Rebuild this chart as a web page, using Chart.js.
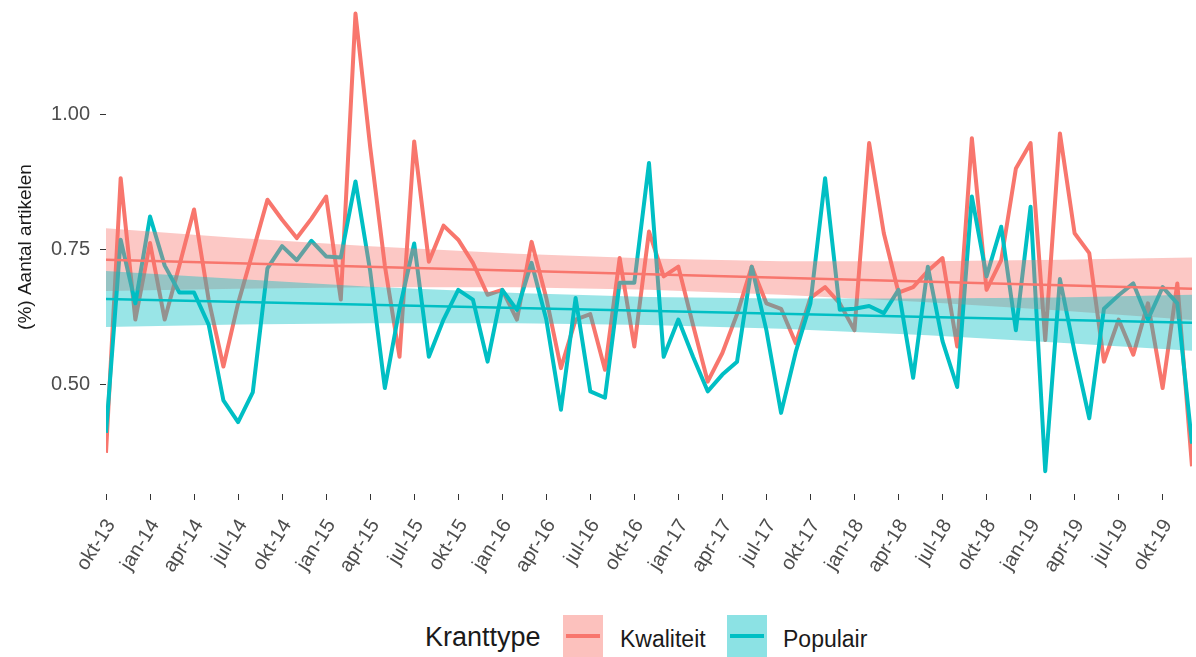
<!DOCTYPE html>
<html>
<head>
<meta charset="utf-8">
<script src="https://cdn.jsdelivr.net/npm/chart.js@4/dist/chart.umd.min.js"></script>
<style>
  body { margin: 0; background: #fff; font-family: "Liberation Sans", Arial, sans-serif; }
  #wrap { position: relative; width: 1196px; height: 657px; }
  #chart { position: absolute; left: 0; top: 0; }
  .leg { position: absolute; color: #1a1a1a; white-space: nowrap; line-height: 1; }
  .sw { position: absolute; width: 40px; height: 42px; }
  .sw span { position: absolute; left: 3px; right: 3px; top: 19px; height: 4px; }
</style>
</head>
<body>
<div id="wrap">
  <canvas id="chart" width="1196" height="600"></canvas>
  <div class="leg" style="left:425px; top:624px; font-size:27px;">Kranttype</div>
  <div class="sw" style="left:563px; top:615px; background:rgba(248,118,109,0.45);"><span style="background:#F8766D"></span></div>
  <div class="leg" style="left:620px; top:628px; font-size:23px;">Kwaliteit</div>
  <div class="sw" style="left:727px; top:615px; background:rgba(0,191,196,0.45);"><span style="background:#00BFC4"></span></div>
  <div class="leg" style="left:783px; top:628px; font-size:23px;">Populair</div>
</div>
<script>
// tick labels, one every 3 months starting okt-13 (month index 0)
const tickLabels = ["okt-13", "jan-14", "apr-14", "jul-14", "okt-14", "jan-15", "apr-15", "jul-15", "okt-15",
  "jan-16", "apr-16", "jul-16", "okt-16", "jan-17", "apr-17", "jul-17", "okt-17", "jan-18", "apr-18",
  "jul-18", "okt-18", "jan-19", "apr-19", "jul-19", "okt-19"];

// monthly values okt-13 .. dec-19
const kwaliteit = [0.373, 0.882, 0.620, 0.762, 0.620, 0.720, 0.824, 0.656, 0.533, 0.650,
  0.745, 0.842, 0.805, 0.771, 0.807, 0.848, 0.657, 1.187, 0.940, 0.720,
  0.551, 0.950, 0.727, 0.794, 0.768, 0.725, 0.666, 0.675, 0.620, 0.764,
  0.660, 0.530, 0.620, 0.630, 0.527, 0.734, 0.570, 0.783, 0.700, 0.718,
  0.610, 0.505, 0.558, 0.630, 0.718, 0.650, 0.640, 0.576, 0.660, 0.680,
  0.650, 0.600, 0.947, 0.780, 0.670, 0.680, 0.710, 0.734, 0.570, 0.956,
  0.675, 0.730, 0.900, 0.947, 0.582, 0.965, 0.780, 0.743, 0.542, 0.620,
  0.555, 0.650, 0.493, 0.687, 0.348];
const populair = [0.410, 0.768, 0.650, 0.811, 0.720, 0.670, 0.670, 0.610, 0.470, 0.430,
  0.485, 0.715, 0.756, 0.730, 0.766, 0.737, 0.735, 0.876, 0.710, 0.493,
  0.640, 0.761, 0.551, 0.620, 0.675, 0.657, 0.542, 0.675, 0.638, 0.725,
  0.620, 0.453, 0.660, 0.487, 0.475, 0.688, 0.688, 0.910, 0.551, 0.620,
  0.551, 0.487, 0.518, 0.542, 0.718, 0.600, 0.447, 0.560, 0.650, 0.882,
  0.638, 0.640, 0.645, 0.632, 0.675, 0.512, 0.718, 0.580, 0.495, 0.848,
  0.700, 0.792, 0.600, 0.829, 0.339, 0.695, 0.560, 0.437, 0.640, 0.665,
  0.687, 0.620, 0.680, 0.650, 0.390];

// linear trend (start, end) and its confidence band read at a few months
const trendX = [0, 74];
const kwalTrend = [0.731, 0.677];
const popTrend = [0.658, 0.614];
const bandX = [0, 9, 18, 28, 37, 46, 56, 65, 74];
const kwalUpper = [0.789, 0.771, 0.756, 0.742, 0.733, 0.728, 0.728, 0.731, 0.735];
const kwalLower = [0.673, 0.677, 0.680, 0.680, 0.675, 0.666, 0.652, 0.637, 0.619];
const popUpper = [0.710, 0.695, 0.681, 0.669, 0.662, 0.659, 0.659, 0.661, 0.666];
const popLower = [0.606, 0.611, 0.613, 0.613, 0.610, 0.603, 0.591, 0.577, 0.562];

const RED = "#F8766D";
const CYAN = "#00BFC4";
const FONT = "'Liberation Sans', Arial, sans-serif";

const xy = (xs, ys) => ys.map((y, i) => ({ x: xs[i], y: y }));
const idx = kwaliteit.map((_, i) => i);

function line(label, data, color, width, order) {
  return {
    label, data, order,
    borderColor: color, borderWidth: width,
    pointRadius: 0, tension: 0, fill: false,
    borderJoinStyle: "round", borderCapStyle: "butt"
  };
}

function bandEdge(data, order, fill, bg) {
  return {
    data, order,
    borderColor: "transparent", borderWidth: 1,
    pointRadius: 0, tension: 0,
    fill: fill, backgroundColor: bg
  };
}

const ctx = document.getElementById("chart").getContext("2d");
new Chart(ctx, {
  type: "line",
  data: {
    datasets: [
      line("Kwaliteit", xy(idx, kwaliteit), RED, 4, 10),
      line("Populair", xy(idx, populair), CYAN, 4, 9),
      bandEdge(xy(bandX, kwalLower), 8, false, "transparent"),
      bandEdge(xy(bandX, kwalUpper), 7, "-1", "rgba(248,118,109,0.4)"),
      line("Kwaliteit trend", xy(trendX, kwalTrend), RED, 2.5, 6),
      bandEdge(xy(bandX, popLower), 5, false, "transparent"),
      bandEdge(xy(bandX, popUpper), 4, "-1", "rgba(0,191,196,0.4)"),
      line("Populair trend", xy(trendX, popTrend), CYAN, 2.5, 3)
    ]
  },
  options: {
    responsive: false,
    animation: false,
    devicePixelRatio: 1,
    layout: { padding: { left: 0, right: 4, top: 0, bottom: 0 } },
    plugins: {
      legend: { display: false },
      tooltip: { enabled: false }
    },
    scales: {
      x: {
        type: "linear",
        min: 0,
        max: 74,
        afterBuildTicks: (scale) => {
          scale.ticks = tickLabels.map((_, k) => ({ value: k * 3 }));
        },
        afterFit: (scale) => {
          scale.height = 106;
          scale.paddingLeft = 0;
          scale.paddingRight = 0;
        },
        grid: { display: true, drawOnChartArea: false, drawTicks: true, tickLength: 6, color: "#333", lineWidth: 1 },
        border: { display: false },
        ticks: {
          autoSkip: false,
          minRotation: 58,
          maxRotation: 58,
          padding: 15,
          labelOffset: 5,
          color: "#4d4d4d",
          font: { family: FONT, size: 20 },
          callback: (v) => tickLabels[Math.round(v / 3)]
        }
      },
      y: {
        min: 0.2967,
        max: 1.2122,
        afterBuildTicks: (scale) => {
          scale.ticks = [0.5, 0.75, 1.0].map(v => ({ value: v }));
        },
        afterFit: (scale) => {
          scale.width = 106;
          scale.paddingTop = 0;
          scale.paddingBottom = 0;
        },
        grid: { display: true, drawOnChartArea: false, drawTicks: true, tickLength: 6, color: "#333", lineWidth: 1 },
        border: { display: false },
        ticks: {
          padding: 10,
          color: "#4d4d4d",
          font: { family: FONT, size: 20 },
          callback: (v) => v.toFixed(2)
        },
        title: {
          display: true,
          text: "(%) Aantal artikelen",
          color: "#1a1a1a",
          font: { family: FONT, size: 19 },
          padding: { top: 14, bottom: 4 }
        }
      }
    }
  }
});
</script>
</body>
</html>
